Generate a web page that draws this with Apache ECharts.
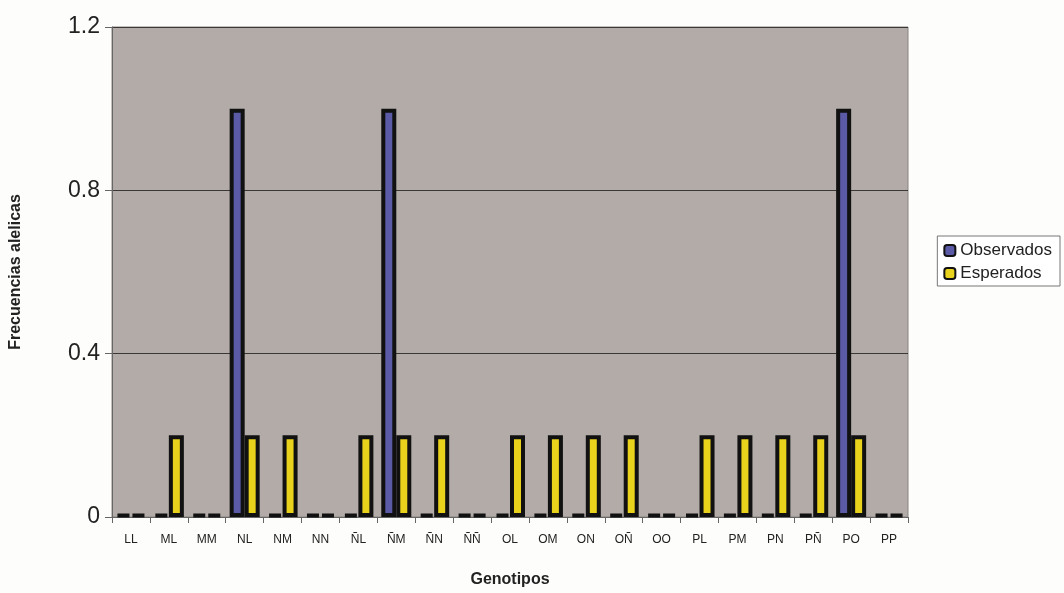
<!DOCTYPE html>
<html><head><meta charset="utf-8">
<script src="https://cdn.jsdelivr.net/npm/echarts@6/dist/echarts.min.js"></script>
<style>html,body{margin:0;padding:0;background:#fdfdfb}#c{width:1064px;height:593px}</style>
</head><body><div id="c"></div>
<script>
const categories = ['LL','ML','MM','NL','NM','NN','ÑL','ÑM','ÑN','ÑÑ','OL','OM','ON','OÑ','OO','PL','PM','PN','PÑ','PO','PP'];
const observados = [0,0,0,1,0,0,0,1,0,0,0,0,0,0,0,0,0,0,0,1,0];
const esperados = [0,0.2,0,0.2,0.2,0,0.2,0.2,0.2,0,0.2,0.2,0.2,0.2,0,0.2,0.2,0.2,0.2,0.2,0];
const yTicks = [0,0.4,0.8,1.2];

const chart = echarts.init(document.getElementById('c'));
chart.setOption({
  backgroundColor: '#fdfdfb',
  animation: false,
  grid: {left: 112, right: 156, top: 27, bottom: 75, show: true, backgroundColor: '#b2aba8', borderColor: '#8a8482', borderWidth: 1},
  legend: {
    orient: 'vertical', right: 4, top: 236,
    backgroundColor: '#ffffff', borderColor: '#777', borderWidth: 1, padding: [6, 8, 4, 6],
    itemWidth: 11, itemHeight: 11, itemGap: 6,
    textStyle: {fontFamily: 'Liberation Sans, Arial', fontSize: 17, color: '#222'},
    data: [
      {name: 'Observados', itemStyle: {color: '#5a5aa6', borderColor: '#111', borderWidth: 2}},
      {name: 'Esperados', itemStyle: {color: '#e8d21c', borderColor: '#111', borderWidth: 2}}
    ]
  },
  xAxis: {
    type: 'category', data: categories,
    name: 'Genotipos', nameLocation: 'middle', nameGap: 55,
    nameTextStyle: {fontFamily: 'Liberation Sans, Arial', fontSize: 16, fontWeight: 'bold', color: '#222'},
    axisLine: {lineStyle: {color: '#666', width: 1}},
    axisTick: {show: true, length: 6, lineStyle: {color: '#666'}},
    axisLabel: {fontFamily: 'Liberation Sans, Arial', fontSize: 12, color: '#222', margin: 17, interval: 0}
  },
  yAxis: {
    type: 'value', min: 0, max: 1.2, interval: 0.4,
    name: 'Frecuencias alelicas', nameLocation: 'middle', nameGap: 88, nameRotate: 90,
    nameTextStyle: {fontFamily: 'Liberation Sans, Arial', fontSize: 16, fontWeight: 'bold', color: '#222'},
    axisLine: {show: true, lineStyle: {color: '#666'}},
    axisTick: {show: true, length: 7, lineStyle: {color: '#666'}},
    axisLabel: {fontFamily: 'Liberation Sans, Arial', fontSize: 23, color: '#222', margin: 12,
      formatter: v => yTicks.includes(Math.round(v*10)/10) ? (v === 0 ? '0' : String(Math.round(v*10)/10)) : ''},
    splitLine: {show: true, lineStyle: {color: '#3a3836', width: 1}}
  },
  series: [
    {name: 'Observados', type: 'bar', data: observados, barWidth: 15, barGap: '0%', barMinHeight: 3,
      itemStyle: {color: '#5a5aa6', borderColor: '#111', borderWidth: 4}},
    {name: 'Esperados', type: 'bar', data: esperados, barWidth: 15, barMinHeight: 3,
      itemStyle: {color: '#e8d21c', borderColor: '#111', borderWidth: 4}}
  ]
});
</script></body></html>
